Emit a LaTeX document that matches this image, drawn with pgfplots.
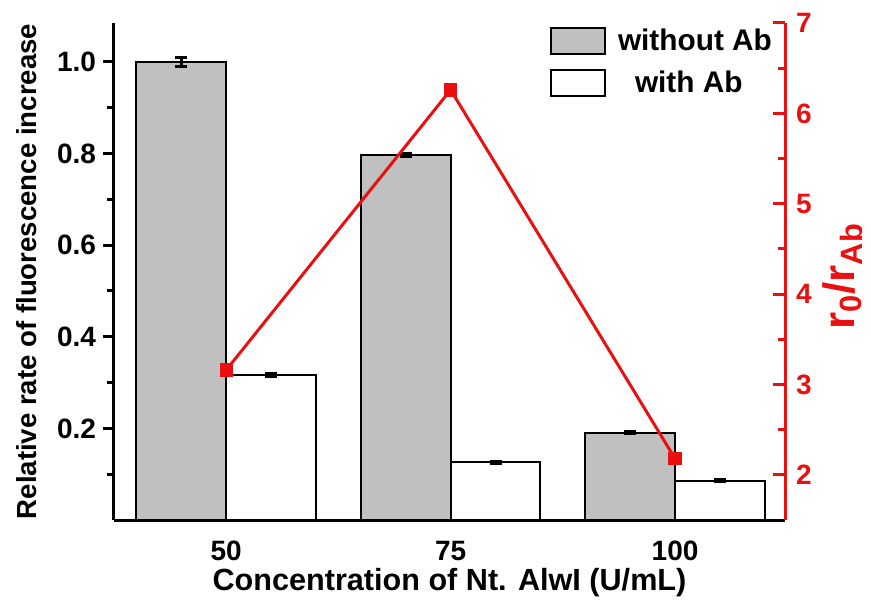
\documentclass[border=0pt]{standalone}
\usepackage{pgfplots}
\pgfplotsset{compat=1.18}
\usepackage{fontspec}
\setmainfont{Liberation Sans}
\definecolor{barg}{RGB}{192,192,192}
\definecolor{myred}{RGB}{232,16,16}
\begin{document}
\begin{tikzpicture}
\begin{axis}[
  at={(0,0)}, anchor=south west,
  width=335.5pt, height=248.5pt, scale only axis,
  xmin=-0.5, xmax=2.49, ymin=0, ymax=1.085,
  axis x line*=bottom, axis y line*=left,
  axis line style={line width=1.5pt,-},
  xtick={0,1,2}, xticklabels={50,75,100},
  major x tick style={draw=none},
  ytick={0.2,0.4,0.6,0.8,1.0},
  minor ytick={0.1,0.3,0.5,0.7,0.9},
  tick align=outside,
  major tick length=5.5pt, minor tick length=3.5pt,
  every tick/.style={line width=1.5pt,black},
  /pgf/number format/assume math mode=true,
  y tick label style={/pgf/number format/.cd, fixed, fixed zerofill, precision=1},
  tick label style={font=\fontsize{14}{16}\selectfont\bfseries},
  xticklabel style={anchor=base, yshift=-14.5pt},
  xlabel={Concentration of Nt. AlwI (U/mL)},
  ylabel={Relative rate of fluorescence increase},
  xlabel style={font=\fontsize{15.3}{18}\selectfont\bfseries, at={(axis description cs:0.5,-0.141)}, anchor=base},
  ylabel style={font=\fontsize{13.8}{15}\selectfont\bfseries, at={(axis description cs:-0.1304,0.5)}, anchor=center},
  ybar, bar width=0.4,
  legend style={at={(axis description cs:0.6498,0.992)}, anchor=north west, draw=none, fill=none,
     inner sep=0pt, outer sep=0pt, nodes={inner sep=0pt},
     font=\fontsize{14.9}{16}\selectfont\bfseries, row sep=7pt},
  legend image code/.code={\draw[#1, line width=1pt] (0pt,-6.5pt) rectangle (27pt,6.5pt);},
  legend cell align=left,
]
\addplot[fill=barg, draw=black, line width=1pt, bar shift=-0.2,
  error bars/.cd, y dir=both, y explicit,
  error bar style={line width=1.5pt, black},
  error mark options={rotate=90, mark size=3pt, line width=1.5pt}]
  coordinates {(0,1.0) +- (0,0.01) (1,0.797) +- (0,0.004) (2,0.191) +- (0,0.003)};
\addlegendentry{\hspace{6pt}without Ab}
\addplot[fill=white, draw=black, line width=1pt, bar shift=0.2,
  error bars/.cd, y dir=both, y explicit,
  error bar style={line width=1.5pt, black},
  error mark options={rotate=90, mark size=3pt, line width=1.5pt}]
  coordinates {(0,0.316) +- (0,0.003) (1,0.126) +- (0,0.002) (2,0.086) +- (0,0.002)};
\addlegendentry{\hspace{14.5pt}with Ab}
\end{axis}
\begin{axis}[
  at={(0,0)}, anchor=south west,
  width=335.5pt, height=248.5pt, scale only axis,
  xmin=-0.5, xmax=2.49, ymin=1.5, ymax=7,
  axis x line=none, axis y line*=right,
  axis line style={line width=1.5pt,-,myred},
  ytick={2,3,4,5,6,7},
  minor ytick={2.5,3.5,4.5,5.5,6.5},
  tick align=inside,
  major tick length=6pt, minor tick length=3.5pt,
  every tick/.style={line width=1.5pt,myred},
  /pgf/number format/assume math mode=true,
  tick label style={font=\fontsize{14}{16}\selectfont\bfseries, myred},
  yticklabel style={xshift=2pt},
  ylabel={r\textsubscript{0}/r\textsubscript{Ab}},
  ylabel style={font=\fontsize{22}{24}\selectfont\bfseries, myred, inner sep=1pt, at={(axis description cs:1.0855,0.49)}, anchor=center},
]
\addplot[myred, line width=1.5pt, mark=square*, mark size=2.6pt, mark options={solid}]
  coordinates {(0,3.16) (1,6.26) (2,2.18)};
\end{axis}
\pgfresetboundingbox
\path (-57pt,-45pt) rectangle (378.5pt,260pt);
\end{tikzpicture}
\end{document}
